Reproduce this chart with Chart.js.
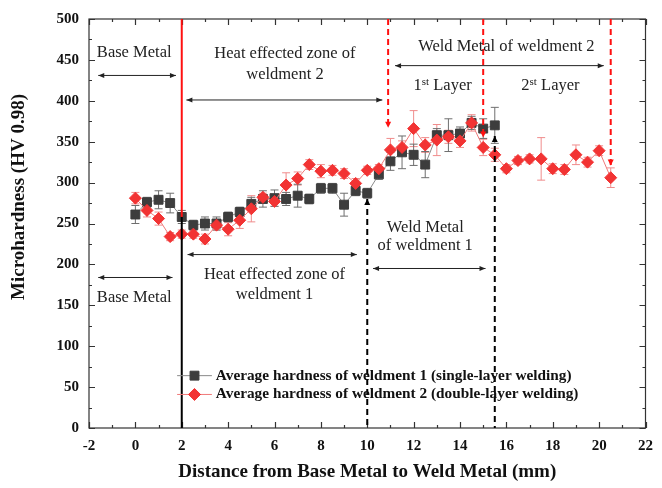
<!DOCTYPE html>
<html>
<head>
<meta charset="utf-8">
<script src="https://cdn.jsdelivr.net/npm/chart.js@4.4.0/dist/chart.umd.min.js"></script>
<style>
html,body{margin:0;padding:0;background:#fff;}
</style>
</head>
<body>
<canvas id="chart" width="662" height="488"></canvas>
<script>
// distance (mm) and average hardness
var distW1=[0,0.5,1,1.5,2,2.5,3,3.5,4,4.5,5,5.5,6,6.5,7,7.5,8,8.5,9,9.5,10,10.5,11,11.5,12,12.5,13,13.5,14,14.5,15,15.5];
var hardW1=[261,276,279,275,258,248,250,250,258,264,274,280,281,280,284,280,293,293,273,290,287,310,326,337,334,322,358,358,360,373,366,370];
var errW1=[11,6,11,12,8,6,8,8,6,6,8,10,10,8,14,6,6,6,14,6,6,6,11,20,13,16,8,20,8,8,12,22];

var distW2=[0,0.5,1,1.5,2,2.5,3,3.5,4,4.5,5,5.5,6,6.5,7,7.5,8,8.5,9,9.5,10,10.5,11,11.5,12,12.5,13,13.5,14,14.5,15,15.5,16,16.5,17,17.5,18,18.5,19,19.5,20,20.5];
var hardW2=[281,266,256,234,237,237,231,248,243,254,268,282,277,297,305,322,314,315,311,299,315,317,340,343,366,346,352,356,351,373,343,334,317,327,329,329,317,316,334,325,339,306];
var errW2=[7,8,8,5,5,5,6,6,8,10,16,5,6,15,8,6,8,6,6,6,5,5,14,8,22,9,19,8,8,10,10,8,5,5,5,26,6,6,12,6,6,12];

var seriesNames=['Average hardness of weldment 1 (single-layer welding)','Average hardness of weldment 2 (double-layer welding)'];
var xTicks=[-2,0,2,4,6,8,10,12,14,16,18,20,22];
var yTicks=[0,50,100,150,200,250,300,350,400,450,500];

var SERIF="'Liberation Serif','Times New Roman',serif";

var toPoints=function(xs,ys){
  return xs.map(function(v,i){ return {x:v,y:ys[i]}; });
};

// error bars, drawn under the markers
var errorBars={
  id:'errorBars',
  beforeDatasetsDraw:function(chart){
    var ctx=chart.ctx, xs=chart.scales.x, ys=chart.scales.y;
    chart.data.datasets.slice().reverse().forEach(function(ds){
      ctx.save();
      ctx.strokeStyle=ds.errColor;
      ctx.lineWidth=1;
      ds.data.forEach(function(p,i){
        var e=ds.err[i];
        var px=xs.getPixelForValue(p.x);
        var t=ys.getPixelForValue(p.y+e), b=ys.getPixelForValue(p.y-e);
        ctx.beginPath();
        ctx.moveTo(px,t);ctx.lineTo(px,b);
        ctx.moveTo(px-4,t);ctx.lineTo(px+4,t);
        ctx.moveTo(px-4,b);ctx.lineTo(px+4,b);
        ctx.stroke();
      });
      ctx.restore();
    });
  }
};

// box round the plot with inward ticks on all four sides
var frame={
  id:'frame',
  afterDatasetsDraw:function(chart){
    var ctx=chart.ctx, a=chart.chartArea, xs=chart.scales.x, ys=chart.scales.y;
    ctx.save();
    ctx.strokeStyle='#333';
    ctx.lineWidth=1.2;
    ctx.strokeRect(a.left,a.top,a.right-a.left,a.bottom-a.top);
    ctx.beginPath();
    for(var v=-2;v<=22;v+=1){
      var px=Math.round(xs.getPixelForValue(v))+0.5;
      var len=(v%2===0)?6:3;
      ctx.moveTo(px,a.bottom);ctx.lineTo(px,a.bottom-len);
      ctx.moveTo(px,a.top);ctx.lineTo(px,a.top+len);
    }
    for(var h=0;h<=500;h+=25){
      var py=Math.round(ys.getPixelForValue(h))+0.5;
      var l2=(h%50===0)?6:3;
      ctx.moveTo(a.left,py);ctx.lineTo(a.left+l2,py);
      ctx.moveTo(a.right,py);ctx.lineTo(a.right-l2,py);
    }
    ctx.stroke();
    ctx.restore();
  }
};

var head=function(ctx,x,y,ang,len,w){
  ctx.save();
  ctx.translate(x,y);ctx.rotate(ang);
  ctx.beginPath();
  ctx.moveTo(0,0);ctx.lineTo(-len,-w);ctx.lineTo(-len,w);ctx.closePath();
  ctx.fill();
  ctx.restore();
};

// zone annotations, placed in data units
var zones={
  id:'zones',
  afterDraw:function(chart){
    var ctx=chart.ctx, xs=chart.scales.x, ys=chart.scales.y;
    var X=function(v){return xs.getPixelForValue(v);};
    var Y=function(v){return ys.getPixelForValue(v);};
    ctx.save();

    var vline=function(x,y0,y1,color,dash,arrow){
      ctx.strokeStyle=color;ctx.fillStyle=color;
      ctx.lineWidth=2;
      ctx.setLineDash(dash);
      ctx.beginPath();ctx.moveTo(X(x),Y(y0));ctx.lineTo(X(x),Y(y1));ctx.stroke();
      ctx.setLineDash([]);
      if(arrow==='down') head(ctx,X(x),Y(y1),Math.PI/2,6,3);
      if(arrow==='up') head(ctx,X(x),Y(y0),-Math.PI/2,6,3);
    };
    vline(2,500,258,'#ff1010',[],null);
    vline(2,258,0,'#000',[],null);
    vline(10.9,500,367,'#ff1010',[6,4],'down');
    vline(15,500,355,'#ff1010',[6,4],'down');
    vline(20.5,500,321,'#ff1010',[6,4],'down');
    vline(10,280,0,'#000',[6,4],'up');
    vline(15.5,357,0,'#000',[6,4],'up');

    var harrow=function(x0,x1,y){
      ctx.strokeStyle='#222';ctx.fillStyle='#222';ctx.lineWidth=1;
      ctx.beginPath();ctx.moveTo(X(x0),Y(y));ctx.lineTo(X(x1),Y(y));ctx.stroke();
      head(ctx,X(x0),Y(y),Math.PI,6,2.5);
      head(ctx,X(x1),Y(y),0,6,2.5);
    };
    harrow(-1.6,1.75,431);
    harrow(2.2,10.65,401);
    harrow(11.2,20.2,443);
    harrow(-1.6,1.6,184);
    harrow(2.25,9.55,212);
    harrow(10.25,15.1,195);

    ctx.fillStyle='#222';
    ctx.font='16.5px '+SERIF;
    ctx.textAlign='center';ctx.textBaseline='middle';
    var txt=function(s,x,y){ctx.fillText(s,X(x),Y(y));};
    txt('Base Metal',-0.05,459);
    txt('Heat effected zone of',6.45,458);
    txt('weldment 2',6.45,432);
    txt('Weld Metal of weldment 2',16.0,466);
    txt('Base Metal',-0.05,159);
    txt('Heat effected zone of',6,188);
    txt('weldment 1',6,163);
    txt('Weld Metal',12.5,245);
    txt('of weldment 1',12.5,223);

    // layer labels with superscripts
    var layer=function(n,sup,x,y){
      ctx.textAlign='left';
      ctx.font='16.5px '+SERIF;
      var w1=ctx.measureText(n).width, w3=ctx.measureText(' Layer').width;
      ctx.font='11px '+SERIF;
      var w2=ctx.measureText(sup).width;
      var sx=X(x)-(w1+w2+w3)/2, py=Y(y);
      ctx.font='16.5px '+SERIF;ctx.fillText(n,sx,py);
      ctx.font='11px '+SERIF;ctx.fillText(sup,sx+w1,py-4);
      ctx.font='16.5px '+SERIF;ctx.fillText(' Layer',sx+w1+w2,py);
    };
    layer('1','st',13.25,418);
    layer('2','st',17.9,418);

    // legend
    ctx.textAlign='left';
    chart.data.datasets.forEach(function(ds,i){
      var ly=Y(64-23*i);
      ctx.strokeStyle=ds.borderColor;ctx.lineWidth=1;
      ctx.beginPath();ctx.moveTo(X(1.8),ly);ctx.lineTo(X(3.3),ly);ctx.stroke();
      ctx.fillStyle=ds.pointBackgroundColor;ctx.strokeStyle=ds.pointBackgroundColor;
      Chart.helpers.drawPoint(ctx,{pointStyle:ds.pointStyle,radius:ds.pointRadius,borderWidth:1,rotation:0},X(2.55),ly);
      ctx.fillStyle='#111';
      ctx.font='bold 15.3px '+SERIF;
      ctx.fillText(ds.label,X(3.47),ly);
    });

    // y axis title, sits a little above the middle of the axis
    ctx.save();
    ctx.translate(19,197);
    ctx.rotate(-Math.PI/2);
    ctx.textAlign='center';
    ctx.fillStyle='#111';
    ctx.font='bold 19px '+SERIF;
    ctx.fillText('Microhardness (HV 0.98)',0,0);
    ctx.restore();

    ctx.restore();
  }
};

var ctx=document.getElementById('chart').getContext('2d');
var chart=new Chart(ctx,{
  type:'scatter',
  data:{
    datasets:[{
      label:seriesNames[0],
      data:toPoints(distW1,hardW1),
      err:errW1,
      errColor:'#6e6e6e',
      showLine:true,
      borderColor:'#8a8a8a',
      borderWidth:1,
      pointStyle:'rect',
      pointRadius:6.3,
      pointBackgroundColor:'#3d3d3d',
      pointBorderColor:'#3d3d3d',
      pointBorderWidth:1,
      order:1
    },{
      label:seriesNames[1],
      data:toPoints(distW2,hardW2),
      err:errW2,
      errColor:'#f08c8c',
      showLine:true,
      borderColor:'#f07a7a',
      borderWidth:1,
      pointStyle:'rectRot',
      pointRadius:6,
      pointBackgroundColor:'#f23333',
      pointBorderColor:'#f23333',
      pointBorderWidth:1,
      order:0
    }]
  },
  options:{
    responsive:false,
    animation:false,
    layout:{padding:{top:15,right:7,left:0,bottom:0}},
    plugins:{legend:{display:false},tooltip:{enabled:false}},
    scales:{
      x:{
        type:'linear',min:-2,max:22,
        afterFit:function(s){s.height=60;},
        afterBuildTicks:function(s){s.ticks=xTicks.map(function(v){return {value:v};});},
        grid:{display:false,drawTicks:false},
        border:{display:false},
        ticks:{color:'#111',padding:9,font:{family:SERIF,size:15,weight:'bold'}},
        title:{display:true,text:'Distance from Base Metal to Weld Metal (mm)',color:'#111',padding:{top:0,bottom:5},font:{family:SERIF,size:19,weight:'bold'}}
      },
      y:{
        min:0,max:500,
        afterFit:function(s){s.width=89;},
        afterBuildTicks:function(s){s.ticks=yTicks.map(function(v){return {value:v};});},
        grid:{display:false,drawTicks:false},
        border:{display:false},
        ticks:{color:'#111',padding:10,font:{family:SERIF,size:15,weight:'bold'}},
        title:{display:false}
      }
    }
  },
  plugins:[errorBars,frame,zones]
});
</script>
</body>
</html>
